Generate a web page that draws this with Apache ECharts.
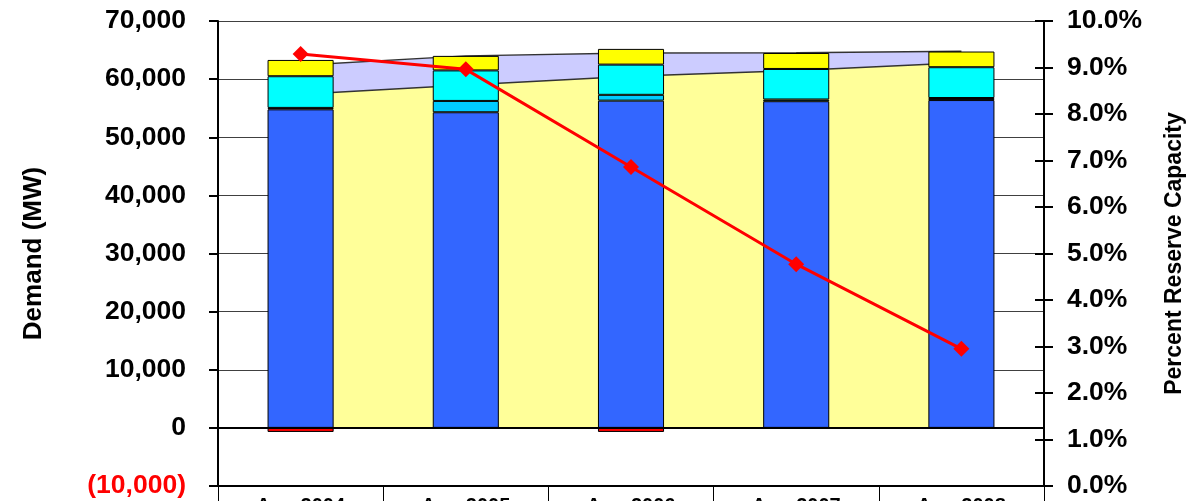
<!DOCTYPE html>
<html>
<head>
<meta charset="utf-8">
<script src="https://cdn.jsdelivr.net/npm/echarts@6/dist/echarts.min.js"></script>
<style>
html,body{margin:0;padding:0;background:#fff;}
#chart{width:1189px;height:501px;}
</style>
</head>
<body>
<div id="chart"></div>
<script>
// ---- data ----
var categories = ['Aug 2004', 'Aug 2005', 'Aug 2006', 'Aug 2007', 'Aug 2008'];
var demandArea = [57400, 59000, 60500, 61500, 62800];
var totalArea = [62400, 64000, 64500, 64550, 64800];
var negativeBar = [-700, '-', -700, '-', '-'];
var blueBar = [54800, 54300, 56300, 56200, 56400];
var lightBlueBar = [250, 1950, 1000, 300, 350];
var cyanBar = [5450, 5250, 5200, 5250, 5300];
var yellowBar = [2800, 2500, 2700, 2750, 2700];
var reservePct = [9.29, 8.96, 6.86, 4.77, 2.95];

var FONT = "'Liberation Sans', Arial, sans-serif";
var chart = echarts.init(document.getElementById('chart'));

function fmtNum(v) {
  var s = Math.abs(v).toString().replace(/\B(?=(\d{3})+(?!\d))/g, ',');
  return v < 0 ? '{neg|(' + s + ')}' : s;
}

var barBorder = { borderColor: '#000', borderWidth: 1 };

chart.setOption({
  animation: false,
  backgroundColor: '#fff',
  grid: { left: 218, right: 145, top: 21, bottom: 15, containLabel: false, outerBoundsMode: 'none' },
  xAxis: {
    type: 'category',
    data: categories,
    boundaryGap: true,
    axisLine: { onZero: false, lineStyle: { color: '#000', width: 2 } },
    axisTick: { show: true, length: 30, lineStyle: { color: '#000', width: 1 } },
    axisLabel: { margin: 10, fontFamily: FONT, fontWeight: 'bold', fontSize: 20, color: '#000' },
    splitLine: { show: false }
  },
  yAxis: [
    {
      type: 'value', position: 'left', min: -10000, max: 70000, interval: 10000,
      name: 'Demand (MW)', nameLocation: 'middle', nameRotate: 90, nameGap: 171,
      nameTextStyle: { fontFamily: FONT, fontWeight: 'bold', fontSize: 26, color: '#000' },
      axisLine: { show: true, lineStyle: { color: '#000', width: 2 } },
      axisTick: { show: true, length: 9, lineStyle: { color: '#000', width: 2 } },
      axisLabel: {
        margin: 32, fontFamily: FONT, fontWeight: 'bold', fontSize: 26.5, color: '#000',
        formatter: fmtNum,
        rich: { neg: { color: '#ff0000', fontFamily: FONT, fontWeight: 'bold', fontSize: 26.5 } }
      },
      splitLine: { show: true, lineStyle: { color: '#404040', width: 1 } }
    },
    {
      type: 'value', position: 'right', min: 0, max: 10, interval: 1,
      name: 'Percent Reserve Capacity', nameLocation: 'middle', nameRotate: 90, nameGap: 119,
      nameTextStyle: { fontFamily: FONT, fontWeight: 'bold', fontSize: 23, color: '#000' },
      axisLine: { show: true, lineStyle: { color: '#000', width: 2 } },
      axisTick: { show: true, length: 9, lineStyle: { color: '#000', width: 2 } },
      axisLabel: {
        margin: 23, fontFamily: FONT, fontWeight: 'bold', fontSize: 26.5, color: '#000',
        formatter: function (v) { return v.toFixed(1) + '%'; }
      },
      splitLine: { show: false }
    },
    {
      type: 'value', position: 'right', min: 0, max: 10, interval: 1,
      axisLine: { show: false },
      axisTick: { show: true, inside: true, length: 9, lineStyle: { color: '#000', width: 2 } },
      axisLabel: { show: false },
      splitLine: { show: false }
    }
  ],
  series: [
    {
      name: 'Total', type: 'line', data: totalArea, symbol: 'none', z: 1,
      lineStyle: { color: '#333', width: 1.5 },
      areaStyle: { color: '#ccccff', opacity: 1 }
    },
    {
      name: 'Demand', type: 'line', data: demandArea, symbol: 'none', z: 1,
      lineStyle: { color: '#333', width: 1.5 },
      areaStyle: { color: '#ffff99', opacity: 1 }
    },
    {
      name: 'Negative', type: 'bar', stack: 'cap', barWidth: '40%', data: negativeBar, z: 3,
      itemStyle: Object.assign({ color: '#ff0000' }, barBorder)
    },
    {
      name: 'Existing', type: 'bar', stack: 'cap', barWidth: '40%', data: blueBar, z: 3,
      itemStyle: Object.assign({ color: '#3366ff' }, barBorder),
      markLine: {
        silent: true, symbol: 'none', label: { show: false }, z: 4,
        lineStyle: { color: '#000', width: 2, type: 'solid' },
        data: [{ yAxis: 0 }]
      }
    },
    {
      name: 'New', type: 'bar', stack: 'cap', barWidth: '40%', data: lightBlueBar, z: 3,
      itemStyle: Object.assign({ color: '#00ccff' }, barBorder)
    },
    {
      name: 'Imports', type: 'bar', stack: 'cap', barWidth: '40%', data: cyanBar, z: 3,
      itemStyle: Object.assign({ color: '#00ffff' }, barBorder)
    },
    {
      name: 'Other', type: 'bar', stack: 'cap', barWidth: '40%', data: yellowBar, z: 3,
      itemStyle: Object.assign({ color: '#ffff00' }, barBorder)
    },
    {
      name: 'Reserve %', type: 'line', yAxisIndex: 1, data: reservePct, z: 5,
      symbol: 'diamond', symbolSize: 16,
      lineStyle: { color: '#ff0000', width: 3 },
      itemStyle: { color: '#ff0000' }
    }
  ]
});
</script>
</body>
</html>
